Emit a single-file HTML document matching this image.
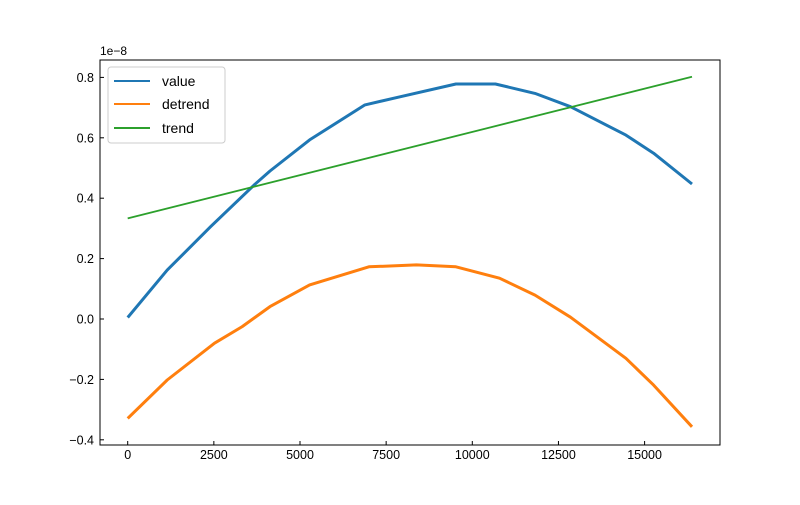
<!DOCTYPE html>
<html><head><meta charset="utf-8"><style>
body{margin:0;background:#fff}
svg{font-family:"Liberation Sans",Arial,sans-serif}
</style></head><body>
<svg id="chart" width="800" height="500" xmlns="http://www.w3.org/2000/svg">
<rect width="800" height="500" fill="#fff"/>
<g id="plot"></g>
<rect x="100" y="60" width="620" height="385" fill="none" stroke="#000" stroke-width="1"/>
<text x="100" y="55" font-size="12">1e−8</text>
<g>
<rect x="108" y="67" width="117" height="76" rx="3" fill="#fff" fill-opacity="0.8" stroke="#ccc"/>
<g><line x1="114" y1="81" x2="150" y2="81" stroke="#1f77b4" stroke-width="2"/><text x="162" y="86" font-size="14">value</text></g>
<g><line x1="114" y1="104" x2="150" y2="104" stroke="#ff7f0e" stroke-width="2"/><text x="162" y="109" font-size="14">detrend</text></g>
<g><line x1="114" y1="128" x2="150" y2="128" stroke="#2ca02c" stroke-width="2"/><text x="162" y="133" font-size="14">trend</text></g>
</g>
</svg>
<script>
const valueX=[0,1146,2409,3672,4130,5280,6884,7917,9525,10670,11820,12850,14457,15260,16375];
const valueY=[0.005,0.162,0.306,0.444,0.49,0.593,0.709,0.736,0.778,0.778,0.747,0.703,0.609,0.549,0.447];
const detrendX=[0,1146,2520,3323,4130,5280,7000,8378,9525,10790,11820,12850,14457,15260,16375];
const detrendY=[-0.329,-0.202,-0.080,-0.025,0.041,0.113,0.173,0.179,0.173,0.135,0.079,0.006,-0.130,-0.219,-0.357];
const trendX=[0,16375];
const trendY=[0.333,0.802];
const xTicks=[0,2500,5000,7500,10000,12500,15000];
const yTicks=[-0.4,-0.2,0.0,0.2,0.4,0.6,0.8];
const NS="http://www.w3.org/2000/svg";
const X=v=>127.7+v*0.03446;
const Y=v=>319-v*302;
const g=document.getElementById('plot');
function mk(t,a){const e=document.createElementNS(NS,t);for(const k in a)e.setAttribute(k,a[k]);g.appendChild(e);return e;}
function line(xa,ya,c,w,name){
  const p=mk('path',{d:xa.map((x,i)=>(i?'L':'M')+X(x).toFixed(1)+','+Y(ya[i]).toFixed(1)).join(''),fill:'none',stroke:c,'stroke-width':w,'stroke-linejoin':'round'});
  
  
}
line(valueX,valueY,'#1f77b4',3,'value-line');
line(detrendX,detrendY,'#ff7f0e',3,'detrend-line');
line(trendX,trendY,'#2ca02c',1.8,'trend-line');
xTicks.forEach(t=>{
  const x=X(t);
  const l=mk('line',{x1:x,x2:x,y1:445,y2:441,stroke:'#000'});
  
  
  const s=mk('text',{x:x,y:459,'font-size':12.5,'text-anchor':'middle'});s.textContent=t;
  
  
});
yTicks.forEach(t=>{
  const y=Y(t);
  const l=mk('line',{x1:100,x2:104,y1:y,y2:y,stroke:'#000'});
  
  
  const s=mk('text',{x:94,y:y+4.5,'font-size':12.5,'text-anchor':'end'});s.textContent=(t<0?'−':'')+Math.abs(t).toFixed(1);
  
  
});
</script>
</body></html>
